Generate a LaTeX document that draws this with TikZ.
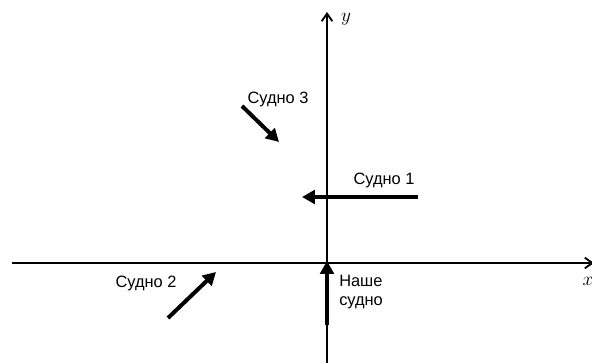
\documentclass[tikz,border=0pt]{standalone}
\usepackage{fontspec}
\setmainfont{Liberation Sans}
\usetikzlibrary{positioning,arrows.meta}

\begin{document}
\begin{tikzpicture}[
    x=0.75pt, y=-0.75pt,
    axis/.style={line width=1.4pt, -{Straight Barb[length=2mm, width=2.8mm]}},
    ship/.style={line width=3pt, -{Triangle[length=3.4mm, width=3.6mm]}},
    lbl/.style={font=\fontsize{12.3}{14}\selectfont, inner sep=0pt, align=left},
    axlbl/.style={font=\fontsize{14}{16}\selectfont, inner sep=0pt}
]
    \useasboundingbox (0,0) rectangle (592,363);
    % axes
    \coordinate (xs) at (12,263);
    \coordinate (xe) at (594,263);
    \coordinate (ys) at (327,365);
    \coordinate (ye) at (327,12);
    \draw[axis] (xs) -- (xe);
    \draw[axis] (ys) -- (ye);
    \node[axlbl] (ylab) at (346,19) {$y$};
    \node[axlbl] (xlab) at (588,281) {$x$};

    % ships
    \coordinate (s1a) at (418,197);
    \coordinate (s1b) at (302,197);
    \draw[ship] (s1a) -- (s1b);
    \node[lbl] (s1) at (384,180) {Судно 1};

    \coordinate (s2a) at (168,318);
    \coordinate (s2b) at (216,272);
    \draw[ship] (s2a) -- (s2b);
    \node[lbl] (s2) at (146,283) {Судно 2};

    \coordinate (s3a) at (242,106);
    \coordinate (s3b) at (279,142);
    \draw[ship] (s3a) -- (s3b);
    \node[lbl] (s3) at (278,99) {Судно 3};

    \coordinate (s0a) at (327,325);
    \coordinate (s0b) at (327,261);
    \draw[ship] (s0a) -- (s0b);
    \node[lbl, anchor=west] (s0) at (339,292) {Наше\\судно};
\end{tikzpicture}
\end{document}
